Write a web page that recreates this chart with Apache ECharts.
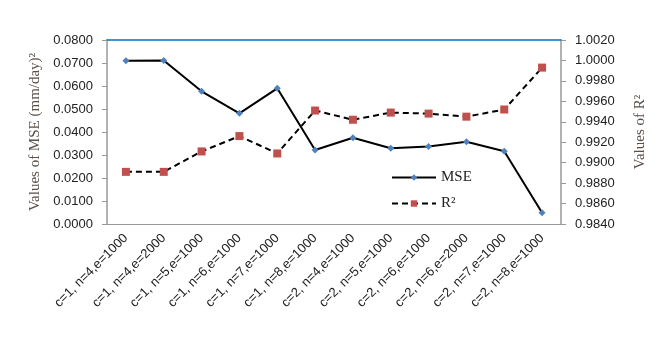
<!DOCTYPE html>
<html><head><meta charset="utf-8">
<script src="https://cdn.jsdelivr.net/npm/echarts@6/dist/echarts.min.js"></script>
<style>html,body{margin:0;padding:0;background:#fff}#c{width:662px;height:340px}</style>
</head><body><div id="c"></div>
<script>
var categories = ["c=1, n=4,e=1000","c=1, n=4,e=2000","c=1, n=5,e=1000","c=1, n=6,e=1000","c=1, n=7,e=1000","c=1, n=8,e=1000","c=2, n=4,e=1000","c=2, n=5,e=1000","c=2, n=6,e=1000","c=2, n=6,e=2000","c=2, n=7,e=1000","c=2, n=8,e=1000"];
var mse = [0.0710, 0.0711, 0.0577, 0.0481, 0.0590, 0.0322, 0.0375, 0.0329, 0.0337, 0.0358, 0.0316, 0.0049];
var r2 = [0.9891, 0.9891, 0.9911, 0.9926, 0.9909, 0.9951, 0.9942, 0.9949, 0.9948, 0.9945, 0.9952, 0.9993];
var leftTicks = {min: 0, max: 0.08, interval: 0.01};
var rightTicks = {min: 0.984, max: 1.002, interval: 0.002};

var serif = "Liberation Serif";
var sans = "Liberation Sans";
var chart = echarts.init(document.getElementById('c'));
chart.setOption({
  animation: false,
  grid: {left: 107, right: 101, top: 40, bottom: 116},
  legend: {
    orient: 'vertical', left: 386, top: 165, itemWidth: 44, itemHeight: 8, itemGap: 11,
    textStyle: {fontFamily: serif, fontSize: 15, color: '#222'},
    data: ['MSE', 'R²']
  },
  xAxis: [{
    type: 'category', data: categories, boundaryGap: true,
    axisLine: {lineStyle: {color: '#999', width: 1}},
    axisTick: {length: 5, lineStyle: {color: '#999'}},
    axisLabel: {rotate: 45, fontFamily: sans, fontSize: 13, color: '#222', margin: 12, interval: 0}
  }, {
    type: 'category', data: categories, position: 'top',
    axisLine: {show: true, lineStyle: {color: '#0070C0', width: 1.5}},
    axisTick: {show: false}, axisLabel: {show: false}
  }],
  yAxis: [{
    type: 'value', min: leftTicks.min, max: leftTicks.max, interval: leftTicks.interval,
    name: 'Values of MSE (mm/day)²', nameLocation: 'middle', nameGap: 62, nameRotate: 90,
    nameTextStyle: {fontFamily: serif, fontSize: 15, color: '#5a5048'},
    axisLine: {show: true, lineStyle: {color: '#999', width: 1.5}},
    axisTick: {show: true, length: 5, lineStyle: {color: '#999'}},
    splitLine: {show: false},
    axisLabel: {fontFamily: sans, fontSize: 13, color: '#222', margin: 14, formatter: function(v){return v.toFixed(4);}}
  }, {
    type: 'value', min: rightTicks.min, max: rightTicks.max, interval: rightTicks.interval, position: 'right',
    name: 'Values of R²', nameLocation: 'middle', nameGap: 72, nameRotate: 90,
    nameTextStyle: {fontFamily: serif, fontSize: 15, color: '#5a5048'},
    axisLine: {show: true, lineStyle: {color: '#999', width: 1.5}},
    axisTick: {show: true, length: 5, lineStyle: {color: '#999'}},
    splitLine: {show: false},
    axisLabel: {fontFamily: sans, fontSize: 13, color: '#222', margin: 14, formatter: function(v){return v.toFixed(4);}}
  }],
  series: [{
    name: 'MSE', type: 'line', data: mse, yAxisIndex: 0,
    symbol: 'diamond', symbolSize: 7,
    itemStyle: {color: '#4F81BD'},
    lineStyle: {color: '#000', width: 2}
  }, {
    name: 'R²', type: 'line', data: r2, yAxisIndex: 1,
    symbol: 'rect', symbolSize: 8,
    itemStyle: {color: '#C0504D'},
    lineStyle: {color: '#000', width: 2, type: [6, 4]}
  }]
});
</script></body></html>
